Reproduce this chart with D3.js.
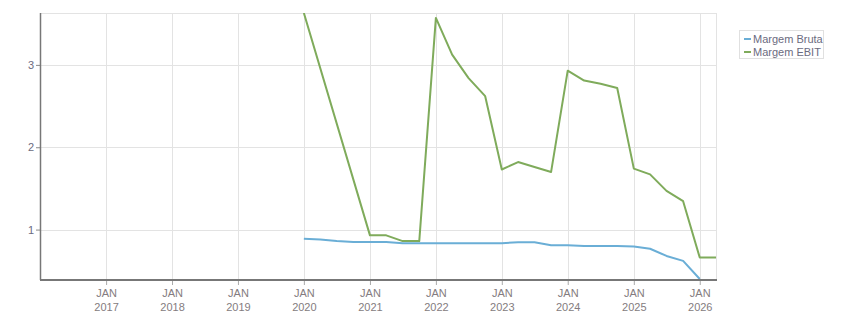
<!DOCTYPE html>
<html>
<head>
<meta charset="utf-8">
<style>
body { margin: 0; background: #fff; }
text { font-family: "Liberation Sans", Arial, sans-serif; font-size: 11px; }
.grid line { stroke: #e3e3e3; stroke-width: 1px; }
.ylab { fill: #6b6b80; }
.xlab { fill: #847c80; }
.leg text { fill: #6b6b80; }
</style>
</head>
<body>
<svg width="851" height="313"></svg>
<script src="https://cdn.jsdelivr.net/npm/d3@7"></script>
<script>

// quarterly dates (first day of quarter)
var bruta_dates = ["2020-01","2020-04","2020-07","2020-10","2021-01","2021-04","2021-07","2021-10",
  "2022-01","2022-04","2022-07","2022-10","2023-01","2023-04","2023-07","2023-10",
  "2024-01","2024-04","2024-07","2024-10","2025-01","2025-04","2025-07","2025-10","2026-01"];
var bruta_vals = [0.888,0.88,0.86,0.85,0.85,0.85,0.835,0.835,
  0.835,0.835,0.835,0.835,0.835,0.845,0.845,0.81,
  0.81,0.80,0.80,0.80,0.795,0.767,0.68,0.62,0.40];

var ebit_dates = ["2020-01","2021-01","2021-04","2021-07","2021-10",
  "2022-01","2022-04","2022-07","2022-10","2023-01","2023-04","2023-07","2023-10",
  "2024-01","2024-04","2024-07","2024-10","2025-01","2025-04","2025-07","2025-10","2026-01","2026-04"];
var ebit_vals = [3.63,0.93,0.93,0.86,0.86,
  3.57,3.125,2.84,2.62,1.73,1.82,1.76,1.70,
  2.93,2.81,2.77,2.72,1.74,1.67,1.47,1.345,0.66,0.66];

var years = [2017,2018,2019,2020,2021,2022,2023,2024,2025,2026];
var yTicks = [1,2,3];
var seriesNames = ["Margem Bruta","Margem EBIT"];
var seriesColors = ["#6aaed6","#7fab5b"];

var parse = d3.timeParse("%Y-%m");
var svg = d3.select("svg");

var mLeft = 40, mRight = 716, mTop = 13, mBottom = 279;

var x = d3.scaleTime()
    .domain([parse("2016-01"), parse("2026-04")])
    .range([mLeft, mRight]);
var y = d3.scaleLinear()
    .domain([0.40, 3.63])
    .range([mBottom, mTop]);

// grid
var grid = svg.append("g").attr("class", "grid");
grid.selectAll("line.v").data(years).enter().append("line")
    .attr("x1", function(d) { return Math.round(x(new Date(d, 0, 1))) + 0.5; })
    .attr("x2", function(d) { return Math.round(x(new Date(d, 0, 1))) + 0.5; })
    .attr("y1", mTop).attr("y2", mBottom);
grid.selectAll("line.h").data(yTicks).enter().append("line")
    .attr("x1", mLeft).attr("x2", mRight)
    .attr("y1", function(d) { return Math.round(y(d)) + 0.5; })
    .attr("y2", function(d) { return Math.round(y(d)) + 0.5; });
grid.append("line").attr("x1", mLeft).attr("x2", mRight).attr("y1", mTop + 0.5).attr("y2", mTop + 0.5);
grid.append("line").attr("x1", mRight + 0.5).attr("x2", mRight + 0.5).attr("y1", mTop).attr("y2", mBottom);

// clip
svg.append("clipPath").attr("id", "clip").append("rect")
    .attr("x", mLeft).attr("y", mTop).attr("width", mRight - mLeft).attr("height", mBottom - mTop + 1);

var line = d3.line()
    .x(function(d) { return x(d[0]); })
    .y(function(d) { return y(d[1]); });

var series = [
  bruta_dates.map(function(d, i) { return [parse(d), bruta_vals[i]]; }),
  ebit_dates.map(function(d, i) { return [parse(d), ebit_vals[i]]; })
];

svg.append("g").attr("clip-path", "url(#clip)")
  .selectAll("path").data(series).enter().append("path")
    .attr("d", line)
    .attr("fill", "none")
    .attr("stroke", function(d, i) { return seriesColors[i]; })
    .attr("stroke-width", 2)
    .attr("stroke-linejoin", "round");

// axes
var yAxis = svg.append("g").attr("transform", "translate(" + mLeft + ",0)")
    .call(d3.axisLeft(y).tickValues(yTicks).tickSize(4).tickFormat(d3.format("d")));
yAxis.select(".domain").remove();
yAxis.selectAll(".tick line").attr("stroke", "#888");
yAxis.selectAll(".tick text").attr("class", "ylab").attr("fill", null)
    .style("font-size", "11px").attr("font-family", null).attr("font-size", null).attr("x", -6);
yAxis.attr("font-family", null).attr("font-size", null);

svg.append("line").attr("x1", mLeft + 0.5).attr("x2", mLeft + 0.5).attr("y1", mTop).attr("y2", mBottom + 1)
    .attr("stroke", "#777").attr("stroke-width", 1.5);

var xAxis = svg.append("g").attr("transform", "translate(0," + (mBottom + 1) + ")")
    .call(d3.axisBottom(x).tickValues(years.map(function(d) { return new Date(d, 0, 1); }))
      .tickSize(5).tickFormat(""));
xAxis.attr("font-family", null).attr("font-size", null);
xAxis.select(".domain").remove();
xAxis.selectAll(".tick line").attr("stroke", "#aaa");
xAxis.selectAll(".tick").each(function(d) {
  var t = d3.select(this).append("text").attr("class", "xlab").attr("text-anchor", "middle");
  t.append("tspan").attr("x", 0).attr("y", 17).text("JAN");
  t.append("tspan").attr("x", 0).attr("y", 31).text(d.getFullYear());
});

svg.append("line").attr("x1", mLeft).attr("x2", mRight + 1).attr("y1", mBottom + 1).attr("y2", mBottom + 1)
    .attr("stroke", "#777").attr("stroke-width", 2);

// legend
var leg = svg.append("g").attr("class", "leg");
leg.append("rect").attr("x", 739.5).attr("y", 30.5).attr("width", 84).attr("height", 28)
    .attr("fill", "#fff").attr("stroke", "#e0e0e0");
seriesNames.forEach(function(n, i) {
  leg.append("line").attr("x1", 744).attr("x2", 751)
      .attr("y1", 39 + i * 13).attr("y2", 39 + i * 13)
      .attr("stroke", seriesColors[i]).attr("stroke-width", 2);
  leg.append("text").attr("x", 753).attr("y", 43 + i * 13).text(n);
});
</script>
</body>
</html>
